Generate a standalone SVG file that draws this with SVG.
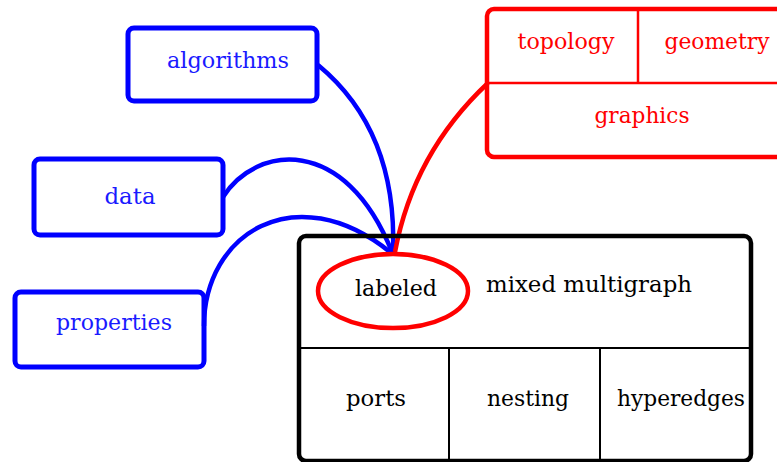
<svg xmlns="http://www.w3.org/2000/svg" width="777" height="462" viewBox="0 0 777 462">
<style>
.t{font-family:"DejaVu Serif","Liberation Serif",serif;font-size:23px;text-anchor:middle}
.b{fill:none;stroke:#0000ff;stroke-width:5}
.bt{fill:#1a1aff}
.rt{fill:#ff0000}
.kt{fill:#000}
.r{fill:none;stroke:#ff0000}
.k{fill:none;stroke:#000}
</style>
<rect width="777" height="462" fill="#fff"/>
<g id="connectors" fill="none" stroke-width="4.5">
<path d="M318,65 C370,108 396,170 393,252" stroke="#0000ff"/>
<path d="M223,197 C256,145 345,134 392,252" stroke="#0000ff"/>
<path d="M204,326 C204,234 295,176 390,252" stroke="#0000ff"/>
<path d="M395,252 C408,182 440,128 488,83" stroke="#ff0000"/>
</g>
<g id="algorithms">
<rect class="b" x="128" y="28" width="189" height="73" rx="6"/>
<text class="t bt" x="228" y="68" textLength="122" lengthAdjust="spacingAndGlyphs">algorithms</text>
</g>
<g id="data">
<rect class="b" x="34" y="159" width="189" height="76" rx="6"/>
<text class="t bt" x="130" y="204" textLength="51" lengthAdjust="spacingAndGlyphs">data</text>
</g>
<g id="properties">
<rect class="b" x="15" y="292" width="189" height="75" rx="6"/>
<text class="t bt" x="114" y="330" textLength="116" lengthAdjust="spacingAndGlyphs">properties</text>
</g>
<g id="graphics-node">
<rect class="r" x="487" y="9" width="310" height="148" rx="7" stroke-width="4.5"/>
<line class="r" x1="487" y1="83" x2="777" y2="83" stroke-width="2.5"/>
<line class="r" x1="638" y1="9" x2="638" y2="83" stroke-width="2.5"/>
<text class="t rt" x="566" y="49" textLength="97" lengthAdjust="spacingAndGlyphs">topology</text>
<text class="t rt" x="717" y="49" textLength="105" lengthAdjust="spacingAndGlyphs">geometry</text>
<text class="t rt" x="642" y="123" textLength="95" lengthAdjust="spacingAndGlyphs">graphics</text>
</g>
<g id="multigraph">
<rect class="k" x="299" y="236" width="452" height="225" rx="7" stroke-width="4.5"/>
<line class="k" x1="299" y1="348" x2="751" y2="348" stroke-width="2"/>
<line class="k" x1="449" y1="348" x2="449" y2="461" stroke-width="2"/>
<line class="k" x1="600" y1="348" x2="600" y2="461" stroke-width="2"/>
<text class="t kt" x="589" y="292" textLength="206" lengthAdjust="spacingAndGlyphs">mixed multigraph</text>
<text class="t kt" x="376" y="406" textLength="60" lengthAdjust="spacingAndGlyphs">ports</text>
<text class="t kt" x="528" y="406" textLength="82" lengthAdjust="spacingAndGlyphs">nesting</text>
<text class="t kt" x="681" y="406" textLength="128" lengthAdjust="spacingAndGlyphs">hyperedges</text>
</g>
<g id="labeled">
<ellipse class="r" cx="393" cy="291" rx="75" ry="37" stroke-width="4.5" fill="#fff"/>
<text class="t kt" x="396" y="296" textLength="82" lengthAdjust="spacingAndGlyphs">labeled</text>
</g>
</svg>
